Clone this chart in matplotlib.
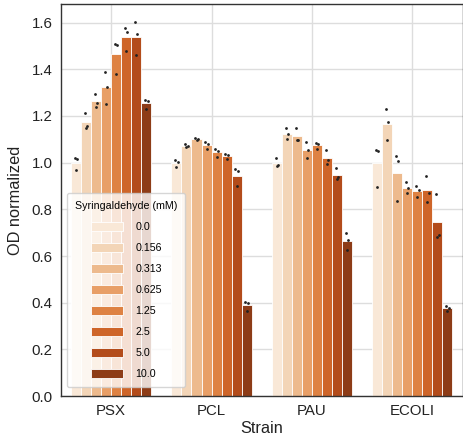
import numpy as np
import matplotlib
matplotlib.use("Agg")
import matplotlib.pyplot as plt
import seaborn as sns

strains = ["PSX", "PCL", "PAU", "ECOLI"]
concentrations = ["0.0", "0.156", "0.313", "0.625", "1.25", "2.5", "5.0", "10.0"]

# replicate OD values (normalized), one triple per concentration
psx_od = [[1.020, 1.015, 0.967], [1.213, 1.155, 1.150], [1.295, 1.255, 1.238],
          [1.390, 1.325, 1.252], [1.508, 1.505, 1.382], [1.579, 1.560, 1.478],
          [1.602, 1.550, 1.461], [1.268, 1.265, 1.232]]
pcl_od = [[1.010, 1.003, 0.980], [1.080, 1.070, 1.065], [1.107, 1.100, 1.095],
          [1.090, 1.080, 1.060], [1.060, 1.048, 1.024], [1.037, 1.031, 1.015],
          [0.973, 0.963, 0.898], [0.405, 0.398, 0.365]]
pau_od = [[1.020, 0.991, 0.986], [1.149, 1.124, 1.100], [1.150, 1.097, 1.095],
          [1.090, 1.056, 1.021], [1.086, 1.079, 1.060], [1.053, 1.013, 0.995],
          [0.977, 0.937, 0.930], [0.700, 0.670, 0.627]]
ecoli_od = [[1.053, 1.049, 0.896], [1.230, 1.174, 1.096], [1.029, 1.009, 0.835],
            [0.917, 0.890, 0.871], [0.901, 0.884, 0.854], [0.943, 0.868, 0.833],
            [0.864, 0.689, 0.683], [0.386, 0.376, 0.366]]

all_od = [psx_od, pcl_od, pau_od, ecoli_od]

font = "Liberation Sans"
plt.rcParams["font.family"] = [font, "DejaVu Sans"]

colors = [sns.desaturate(c, 0.75) for c in sns.color_palette("Oranges", len(concentrations))]

fig = plt.figure(figsize=(4.63, 4.40), dpi=100)
ax_w = (462.5 - 61) / 463
ax_h = (396 - 4) / 440
ax = fig.add_axes([61 / 463, 1 - 396 / 440, ax_w, ax_h])

n = len(concentrations)
width = 0.8 / n
x = np.arange(len(strains))
jit = [-0.012, 0.012, 0.0]
for j, conc in enumerate(concentrations):
    vals = np.array([all_od[i][j] for i in range(len(strains))])
    pos = x + (j - (n - 1) / 2) * width
    ax.bar(pos, vals.mean(axis=1), width=width, color=colors[j],
           edgecolor="white", linewidth=0.6, label=conc, zorder=2)
    for k in range(vals.shape[1]):
        ax.scatter(pos + jit[k], vals[:, k], s=4, color="#222222", zorder=3,
                   linewidths=0)

ax.set_xlim(-0.5, len(strains) - 0.5)
ax.set_ylim(0, 1.68)
ax.set_xticks(x)
ax.set_xticklabels(strains)
ax.set_yticks(np.arange(0, 1.61, 0.2))
ax.set_yticklabels([f"{v:.1f}" for v in np.arange(0, 1.61, 0.2)])
ax.tick_params(axis="both", labelsize=10.8, length=0, pad=6, colors="#222222")
ax.grid(True, color="#dddddd", linewidth=1.0, zorder=0)
ax.set_axisbelow(True)
for sp in ax.spines.values():
    sp.set_color("#333333")
    sp.set_linewidth(1.0)

ax.set_xlabel("Strain", fontsize=11.8, labelpad=2, color="#222222")
ax.set_ylabel("OD normalized", fontsize=11.8, labelpad=6, color="#222222")

leg = ax.legend(title="Syringaldehyde (mM)", loc="lower left",
                bbox_to_anchor=(6 / 401.5, 9 / 392), borderaxespad=0,
                fontsize=7.7, title_fontsize=7.7, handlelength=3.0,
                handleheight=0.95, labelspacing=1.0, framealpha=0.8,
                edgecolor="#cccccc", fancybox=True, borderpad=0.75,
                handletextpad=1.2)

fig.savefig("out.png", dpi=100)
